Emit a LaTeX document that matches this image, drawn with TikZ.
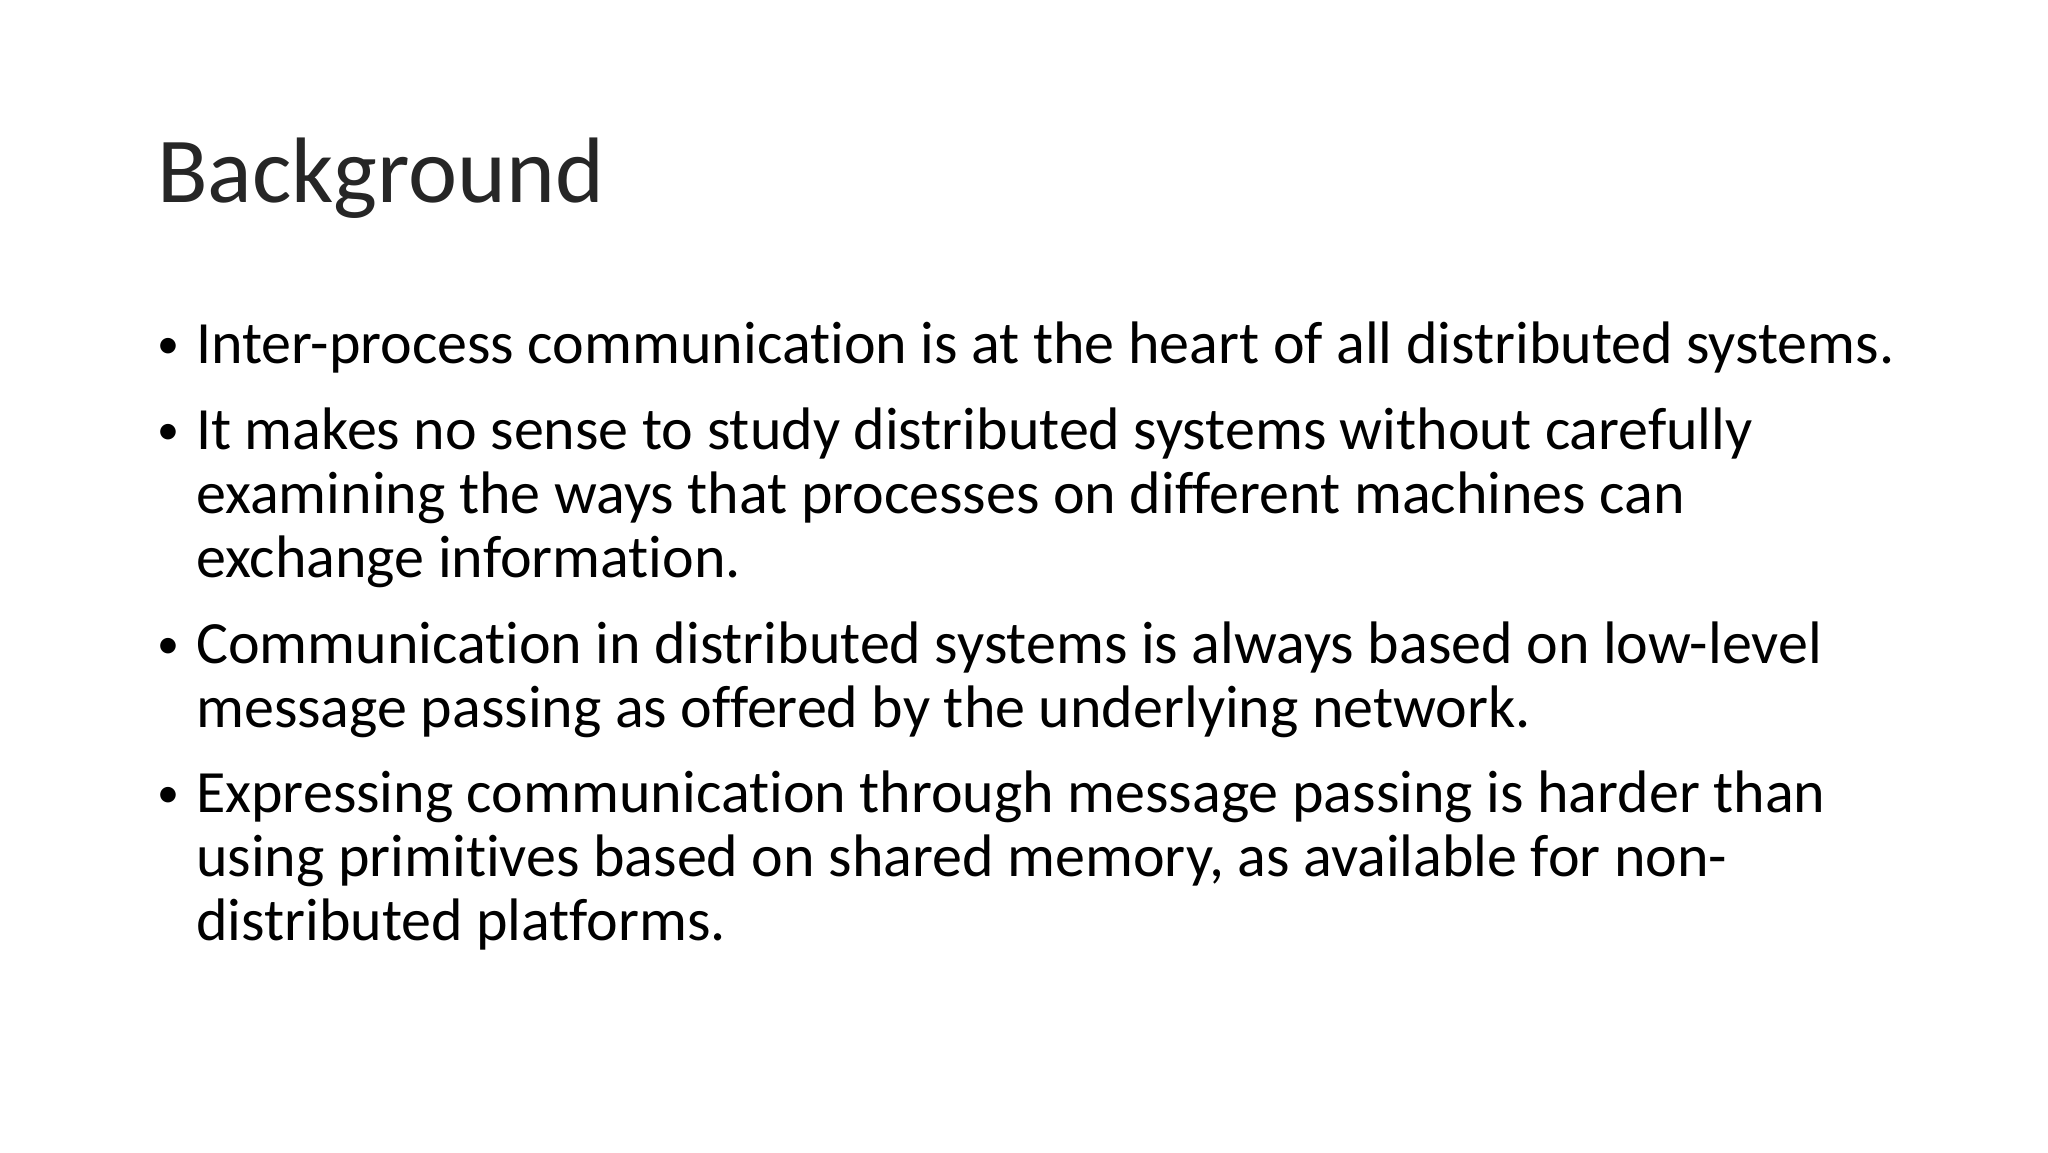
\documentclass[tikz,border=0pt]{standalone}
\usepackage{fontspec}
\setmainfont[Ligatures=NoCommon]{Carlito}
\begin{document}
\begin{tikzpicture}[x=1pt,y=-1pt,
  ln/.style={anchor=base west,inner sep=0pt,font=\fontsize{60}{64}\selectfont},
  bl/.style={anchor=base west,inner sep=0pt,font=\fontsize{44}{48}\selectfont}]
\useasboundingbox[fill=white] (0,0) rectangle (2048,1152);
\node[anchor=base west,inner sep=0pt,font=\fontsize{93}{100}\selectfont,text=black!85] (title) at (157,202) {Background};
\node[bl] (b1) at (157,358) {•};
\node[ln] (l1) at (196,363) {Inter-process communication is at the heart of all distributed systems.};
\node[bl] (b2) at (157,444) {•};
\node[ln] (l2) at (196,449) {It makes no sense to study distributed systems without carefully};
\node[ln] (l3) at (196,513) {examining the ways that processes on different machines can};
\node[ln] (l4) at (196,577) {exchange information.};
\node[bl] (b3) at (157,658) {•};
\node[ln] (l5) at (196,663) {Communication in distributed systems is always based on low-level};
\node[ln] (l6) at (196,727) {message passing as offered by the underlying network.};
\node[bl] (b4) at (157,807) {•};
\node[ln] (l7) at (196,812) {Expressing communication through message passing is harder than};
\node[ln] (l8) at (196,876) {using primitives based on shared memory, as available for non-};
\node[ln] (l9) at (196,940) {distributed platforms.};
\end{tikzpicture}
\end{document}
